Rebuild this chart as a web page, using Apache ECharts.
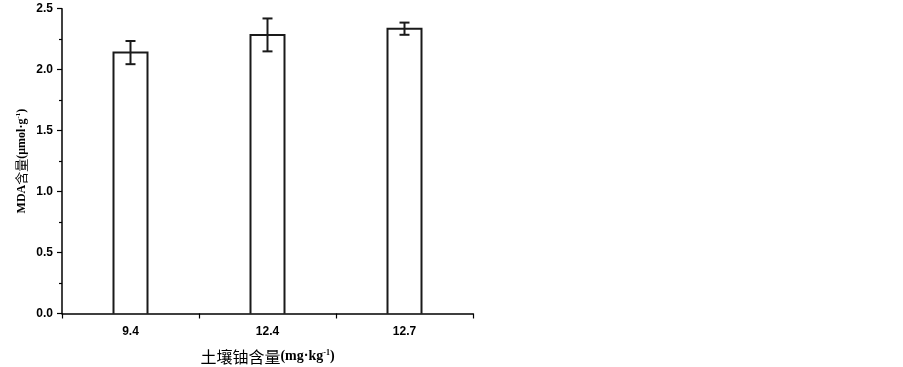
<!DOCTYPE html>
<html>
<head>
<meta charset="utf-8">
<script src="https://cdn.jsdelivr.net/npm/echarts@6/dist/echarts.min.js"></script>
<style>html,body{margin:0;padding:0;background:#fff;}#c{width:903px;height:367px;}</style>
</head>
<body>
<div id="c"></div>
<script>
var categories = ['9.4', '12.4', '12.7'];
var values = [2.14, 2.285, 2.336];
var errors = [0.095, 0.135, 0.05];
var yTicks = [0, 0.5, 1.0, 1.5, 2.0, 2.5];

var chart = echarts.init(document.getElementById('c'));
var errData = categories.map(function (c, i) { return [i, values[i], values[i] - errors[i], values[i] + errors[i]]; });
var latin = '"Liberation Sans", Arial, sans-serif';
var serif = '"Liberation Serif", "Times New Roman", serif';
var cjk = '"Noto Sans CJK SC", sans-serif';
var BAR_W = 34;
chart.setOption({
  animation: false,
  backgroundColor: '#fff',
  grid: { left: 62, top: 8.7, right: 430, bottom: 53.5, containLabel: false, outerBoundsMode: 'none' },
  xAxis: {
    type: 'category',
    data: categories,
    z: 5,
    axisLine: { lineStyle: { color: '#000', width: 1.5 } },
    axisTick: { show: true, inside: false, length: 5, alignWithLabel: false, lineStyle: { color: '#000', width: 1.2 } },
    axisLabel: { color: '#000', fontFamily: latin, fontWeight: 'bold', fontSize: 12, margin: 12 },
    name: '{c|土壤铀含量}{t|(mg·kg}{s|-1}{t|)}',
    nameLocation: 'middle',
    nameGap: 35,
    nameTextStyle: {
      rich: {
        c: { fontFamily: cjk, fontSize: 16, color: '#000' },
        t: { fontFamily: serif, fontSize: 14, fontWeight: 'bold', color: '#000' },
        s: { fontFamily: serif, fontSize: 8, fontWeight: 'bold', color: '#000', verticalAlign: 'top' }
      }
    }
  },
  yAxis: {
    type: 'value',
    min: 0, max: 2.5, interval: 0.5,
    z: 5,
    axisLine: { show: true, lineStyle: { color: '#000', width: 1.5 } },
    axisTick: { show: true, inside: false, length: 5, lineStyle: { color: '#000', width: 1.2 } },
    minorTick: { show: true, splitNumber: 2, length: 3, lineStyle: { color: '#000', width: 1.2 } },
    splitLine: { show: false },
    axisLabel: {
      color: '#000', fontFamily: latin, fontWeight: 'bold', fontSize: 12, margin: 9,
      formatter: function (v) { return v.toFixed(1); }
    },
    name: '{t|MDA}{c|含量}{t|(μmol·g}{s|-1}{t|)}',
    nameLocation: 'middle',
    nameRotate: 90,
    nameGap: 34,
    nameTextStyle: {
      rich: {
        c: { fontFamily: cjk, fontSize: 13, color: '#000' },
        t: { fontFamily: serif, fontSize: 12, fontWeight: 'bold', color: '#000' },
        s: { fontFamily: serif, fontSize: 7, fontWeight: 'bold', color: '#000', verticalAlign: 'top' }
      }
    }
  },
  series: [
    {
      type: 'bar',
      data: values,
      barWidth: BAR_W,
      itemStyle: { color: '#fff', borderWidth: 0 },
      z: 2
    },
    {
      type: 'custom',
      data: errData,
      z: 3,
      renderItem: function (params, api) {
        var x = api.value(0);
        var base = api.coord([x, 0]);
        var top = api.coord([x, api.value(1)]);
        var lo = api.coord([x, api.value(2)]);
        var hi = api.coord([x, api.value(3)]);
        var hw = 5;
        var bw = BAR_W / 2;
        var st = { stroke: '#1a1a1a', lineWidth: 2, fill: null };
        return {
          type: 'group',
          children: [
            { type: 'polyline', shape: { points: [[base[0] - bw, base[1]], [top[0] - bw, top[1]], [top[0] + bw, top[1]], [base[0] + bw, base[1]]] }, style: st },
            { type: 'line', shape: { x1: lo[0], y1: lo[1], x2: hi[0], y2: hi[1] }, style: st },
            { type: 'line', shape: { x1: hi[0] - hw, y1: hi[1], x2: hi[0] + hw, y2: hi[1] }, style: st },
            { type: 'line', shape: { x1: lo[0] - hw, y1: lo[1], x2: lo[0] + hw, y2: lo[1] }, style: st }
          ]
        };
      }
    }
  ]
});
</script>
</body>
</html>
